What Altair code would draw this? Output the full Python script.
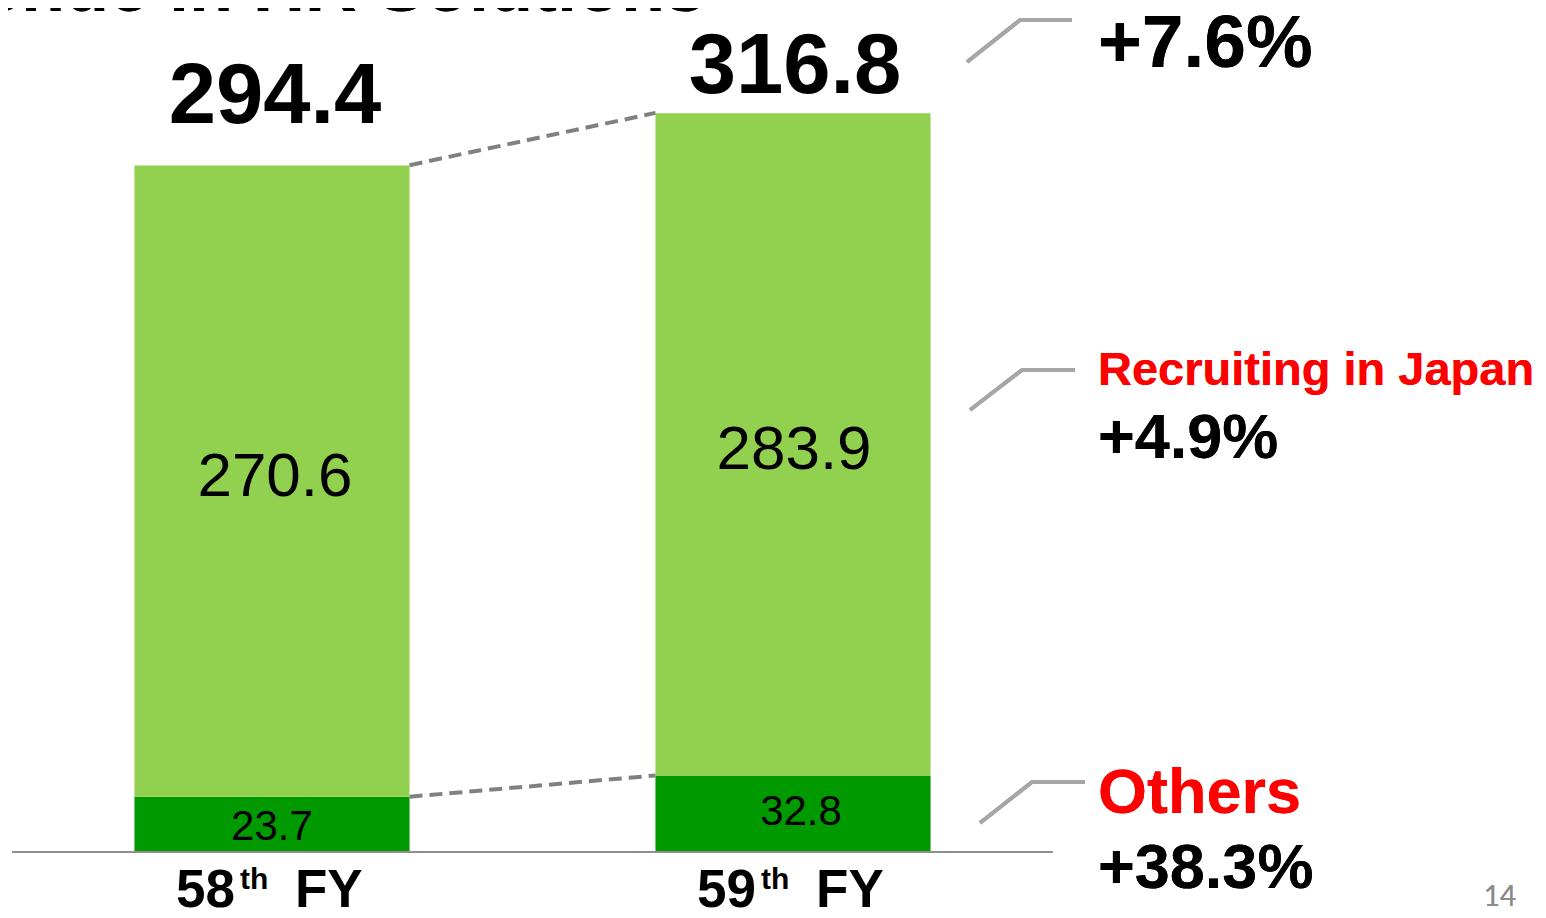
import altair as alt
import pandas as pd

# ---------------- data ----------------
years = ["58th FY", "59th FY"]
year_nums = ["58", "59"]
segments = ["Others", "Recruiting in Japan"]
others = [23.7, 32.8]
recruiting = [270.6, 283.9]
totals = [294.4, 316.8]
growth_total = "+7.6%"
growth_recruiting = "+4.9%"
growth_others = "+38.3%"
title_text = "Revenue in HR Solutions"
page_no = "14"

# ---------------- styles ----------------
W, H = 1530, 902
FONT = "Liberation Sans"
C_OTHERS = "#009900"
C_RECRUIT = "#92D050"
C_DASH = "#808080"
C_LEADER = "#A6A6A6"
C_AXIS = "#8F8F8F"
C_RED = "#FF0000"

seg_df = pd.DataFrame({
    "fy": years * 2,
    "segment": [segments[0]] * 2 + [segments[1]] * 2,
    "value": others + recruiting,
    "ord": [0, 0, 1, 1],
})
tot_df = pd.DataFrame({"fy": years, "total": totals, "num": year_nums})
conn_df = pd.DataFrame({
    "a": [years[0], years[0]],
    "b": [years[1], years[1]],
    "ya": [totals[0], others[0]],
    "yb": [totals[1], others[1]],
})

xscale = alt.Scale(domain=years, range=[4, 1045], paddingInner=0.472, paddingOuter=0.235)
yscale = alt.Scale(domain=[-24.86, 361.77], nice=False, zero=False)

X = alt.X("fy:N", scale=xscale, axis=None)

bars = alt.Chart(seg_df).mark_bar(strokeWidth=0).encode(
    x=X,
    y=alt.Y("value:Q", stack="zero", scale=yscale, axis=None),
    color=alt.Color("segment:N", scale=alt.Scale(domain=segments, range=[C_OTHERS, C_RECRUIT]), legend=None),
    order=alt.Order("ord:Q"),
)

stacked = alt.Chart(seg_df).transform_stack(
    stack="value", groupby=["fy"], as_=["y0", "y1"], sort=[alt.SortField("ord", order="ascending")]
).transform_calculate(mid="(datum.y0 + datum.y1) / 2")


def seg_label(seg, fy, size, dx, dy):
    return stacked.transform_filter(
        (alt.datum.segment == seg) & (alt.datum.fy == fy)
    ).mark_text(
        font=FONT, fontSize=size, baseline="middle", dx=dx, dy=dy, color="black"
    ).encode(x=X, y=alt.Y("mid:Q", scale=yscale, axis=None), text=alt.Text("value:Q", format=".1f"))


seg_labels = [
    seg_label(segments[1], years[0], 62, 3, -4),
    seg_label(segments[1], years[1], 62, 1, 6),
    seg_label(segments[0], years[0], 42, 0, 3),
    seg_label(segments[0], years[1], 42, 8, -2),
]


def total_label(fy, dx, dy):
    return alt.Chart(tot_df).transform_filter(alt.datum.fy == fy).mark_text(
        font=FONT, fontSize=85, fontWeight="bold", baseline="alphabetic", dx=dx, dy=dy, color="black"
    ).encode(x=X, y=alt.Y("total:Q", scale=yscale, axis=None), text=alt.Text("total:Q", format=".1f"))


tot_labels = [total_label(years[0], 3, -42), total_label(years[1], 2, -20)]

connectors = alt.Chart(conn_df).mark_rule(
    color=C_DASH, strokeWidth=4, strokeDash=[13, 7]
).encode(
    x=alt.X("a:N", scale=xscale, axis=None, bandPosition=1),
    x2=alt.X2("b:N", bandPosition=0),
    y=alt.Y("ya:Q", scale=yscale, axis=None),
    y2=alt.Y2("yb:Q"),
)

axis_line = alt.Chart(tot_df).mark_rule(color=C_AXIS, strokeWidth=2).encode(
    x=alt.value(4), x2=alt.value(1045), y=alt.Y(datum=0, scale=yscale, axis=None)
)

# x labels with superscript
lbl_num = alt.Chart(tot_df).mark_text(
    font=FONT, fontSize=53, fontWeight="bold", align="left", baseline="alphabetic", dx=-96, color="black"
).encode(x=X, y=alt.value(899), text="num:N")
lbl_th = alt.Chart(tot_df).mark_text(
    font=FONT, fontSize=30, fontWeight="bold", align="left", baseline="alphabetic", dx=-32, color="black"
).encode(x=X, y=alt.value(881), text=alt.value("th"))
lbl_fy = alt.Chart(tot_df).mark_text(
    font=FONT, fontSize=53, fontWeight="bold", align="left", baseline="alphabetic", dx=23, color="black"
).encode(x=X, y=alt.value(899), text=alt.value("FY"))

# leader lines (annotation)
leaders = []
for (x0, y0, x1, y1, x2) in [(959, 54, 1012, 12, 1064), (962, 402, 1014, 362, 1067), (972, 815, 1024, 774, 1077)]:
    leaders.append(alt.Chart(tot_df).mark_rule(color=C_LEADER, strokeWidth=4).encode(
        x=alt.value(x0), y=alt.value(y0), x2=alt.value(x1), y2=alt.value(y1)))
    leaders.append(alt.Chart(tot_df).mark_rule(color=C_LEADER, strokeWidth=4).encode(
        x=alt.value(x1 - 1), y=alt.value(y1), x2=alt.value(x2), y2=alt.value(y1)))


def note(text, x, y, size, color="black", weight="bold", font=FONT, align="left"):
    return alt.Chart(tot_df).mark_text(
        font=font, fontSize=size, fontWeight=weight, color=color, align=align, baseline="alphabetic"
    ).encode(x=alt.value(x), y=alt.value(y), text=alt.value(text))


notes = [
    note(growth_total, 1090, 59, 75),
    note(segments[1], 1090, 377, 47, C_RED),
    note(growth_recruiting, 1090, 450, 63),
    note(segments[0], 1090, 805, 63, C_RED),
    note(growth_others, 1090, 880, 63),
    note(page_no, 1492, 898, 28, "#8C8C8C", "normal", "Lato", "center"),
    note(title_text, 697, 3, 72, align="right"),
]

chart = alt.layer(
    bars, connectors, axis_line, *seg_labels, *tot_labels,
    lbl_num, lbl_th, lbl_fy, *leaders, *notes
).properties(
    width=W, height=H, autosize=alt.AutoSizeParams(type="none"), padding=0, background="white"
).configure_view(stroke=None)

chart.save("out.html", embed_options={"renderer": "svg", "actions": False})
